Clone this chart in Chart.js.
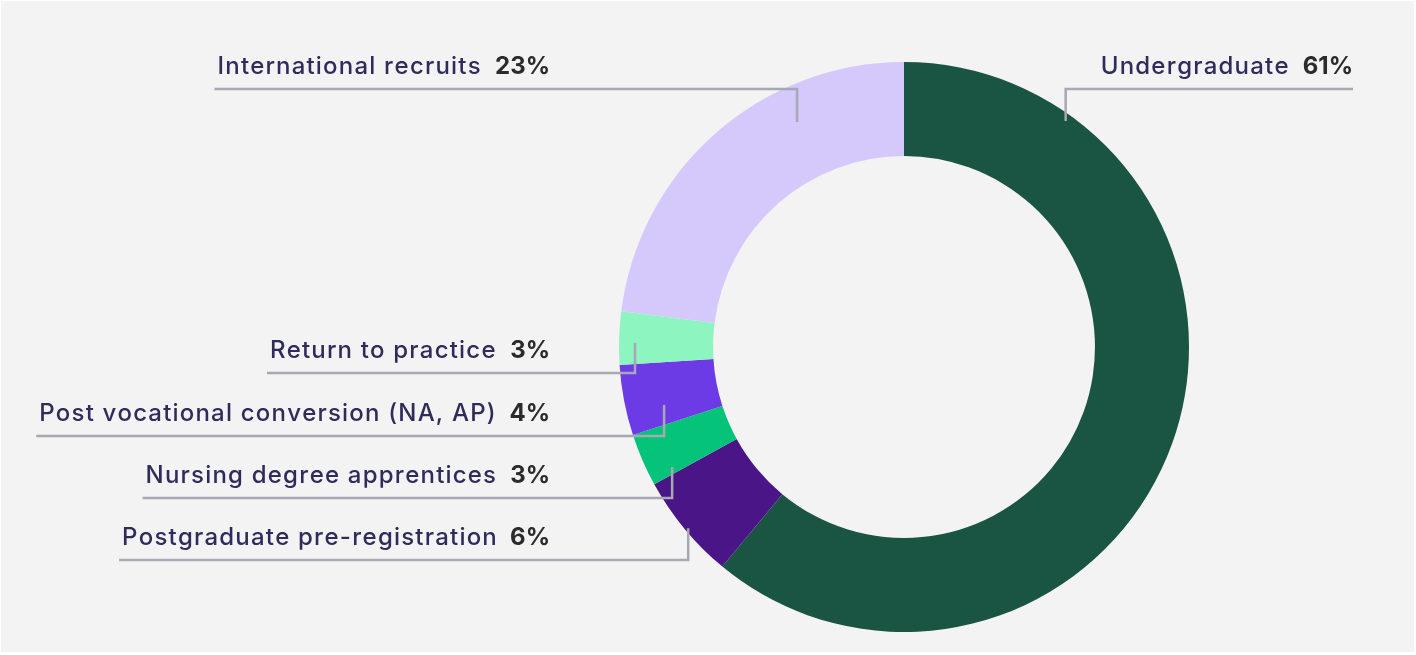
<!DOCTYPE html>
<html>
<head>
<meta charset="utf-8">
<script src="https://cdn.jsdelivr.net/npm/chart.js@4.4.0/dist/chart.umd.min.js"></script>
<style>
  html, body { margin:0; padding:0; background:#fff; }
  #wrap { position:relative; width:1416px; height:655px; }
  #bg { position:absolute; left:1px; top:1px; width:1413px; height:651px; background:#f3f3f3; }
  #chart { position:absolute; left:0; top:0; }
</style>
</head>
<body>
<div id="wrap">
  <div id="bg"></div>
  <canvas id="chart" width="1416" height="655"></canvas>
</div>
<script>
// data, clockwise from 12 o'clock
const categories = ['Undergraduate', 'Postgraduate pre-registration', 'Nursing degree apprentices',
  'Post vocational conversion (NA, AP)', 'Return to practice', 'International recruits'];
const shares = [61, 6, 3, 4, 3, 23];
const sliceColors = ['#1a5442', '#4a1587', '#05c479', '#6c3be6', '#8df5c0', '#d5c8fb'];

// where each callout sits: t = fraction along the slice, r = fraction of outer radius,
// lineY = underline y, textRight = right edge of the "xx%" text
const callouts = [
  {t:0.162, r:0.975, lineY:89,  textRight:1353},
  {t:0.48,  r:0.989, lineY:560, textRight:550},
  {t:0.134, r:0.916, lineY:498, textRight:550},
  {t:0.306, r:0.866, lineY:436, textRight:550},
  {t:0.417, r:0.944, lineY:373, textRight:550},
  {t:0.693, r:0.874, lineY:89,  textRight:550},
];

const LABEL_FONT = '500 24px Inter';
const PCT_FONT = '700 24px Inter';
const LABEL_SPACING = 1.2;

const calloutPlugin = {
  id:'callouts',
  afterDatasetsDraw(chart){
    const ctx = chart.ctx;
    const meta = chart.getDatasetMeta(0);
    meta.data.forEach((arc, i)=>{
      const p = arc.getProps(['x','y','startAngle','endAngle','outerRadius'], true);
      const c = callouts[i];
      const ang = p.startAngle + c.t*(p.endAngle - p.startAngle);
      const ax = p.x + Math.cos(ang)*p.outerRadius*c.r;
      const ay = p.y + Math.sin(ang)*p.outerRadius*c.r;

      const pct = shares[i] + '%';
      ctx.save();
      ctx.letterSpacing = '0px';
      ctx.font = PCT_FONT;
      const pw = ctx.measureText(pct).width;
      ctx.font = LABEL_FONT;
      // width with manual letter spacing
      const label = categories[i];
      const lw = ctx.measureText(label).width + LABEL_SPACING*(label.length - 1);
      const gap = 15;
      const textLeft = c.textRight - pw - gap - lw;
      const baseY = c.lineY - 15;

      // leader line
      const x0 = Math.min(textLeft - 3, ax);
      const x1 = Math.max(c.textRight, ax);
      ctx.strokeStyle = '#a6a8b3';
      ctx.lineWidth = 2.5;
      ctx.beginPath();
      if(ax <= x0 + 1){
        ctx.moveTo(ax, ay); ctx.lineTo(ax, c.lineY); ctx.lineTo(x1, c.lineY);
      } else {
        ctx.moveTo(x0, c.lineY); ctx.lineTo(ax, c.lineY); ctx.lineTo(ax, ay);
      }
      ctx.stroke();

      ctx.textBaseline = 'alphabetic';
      ctx.textAlign = 'left';
      ctx.fillStyle = '#2f2c5c';
      ctx.font = LABEL_FONT;
      // draw glyph by glyph so spacing is consistent
      let x = textLeft;
      for(const ch of label){
        ctx.fillText(ch, x, baseY);
        x += ctx.measureText(ch).width + LABEL_SPACING;
      }
      ctx.fillStyle = '#2b2b2b';
      ctx.font = PCT_FONT;
      ctx.fillText(pct, c.textRight - pw, baseY);
      ctx.restore();
    });
  }
};

new Chart(document.getElementById('chart'), {
  type:'doughnut',
  data:{
    labels: categories,
    datasets:[{ data: shares, backgroundColor: sliceColors, borderWidth:0, hoverOffset:0 }]
  },
  options:{
    responsive:false,
    animation:false,
    cutout:'67%',
    layout:{ padding:{ left:619, right:227, top:62, bottom:23 } },
    plugins:{ legend:{display:false}, tooltip:{enabled:false} }
  },
  plugins:[calloutPlugin]
});
</script>
</body>
</html>
